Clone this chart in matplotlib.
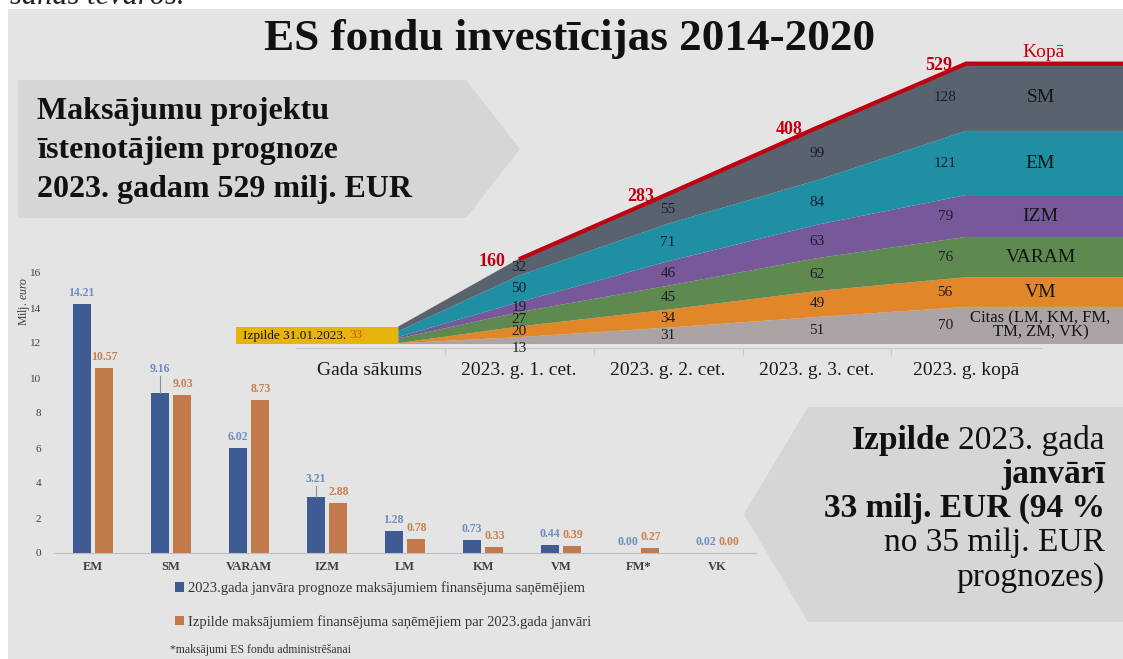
import matplotlib
matplotlib.use('Agg')
import matplotlib.pyplot as plt
from matplotlib.patches import Polygon, Rectangle
import numpy as np

W, H = 1123, 659
plt.rcParams['font.family'] = ['Liberation Serif', 'DejaVu Serif']
plt.rcParams['mathtext.fontset'] = 'custom'
plt.rcParams['mathtext.rm'] = 'Liberation Serif'
plt.rcParams['mathtext.it'] = 'Liberation Serif:italic'

# ---------------- data ----------------
stage_labels = ['Gada sākums', '2023. g. 1. cet.', '2023. g. 2. cet.',
                '2023. g. 3. cet.', '2023. g. kopā']
layer_names = ['Citas (LM, KM, FM,\nTM, ZM, VK)', 'VM', 'VARAM', 'IZM', 'EM', 'SM']
# start (izpilde 31.01.2023 = 33), Q1, Q2, Q3, total 2023
citas = [1.38, 13, 31, 51, 70]
vm = [0.39, 20, 34, 49, 56]
varam = [8.73, 27, 45, 62, 76]
izm = [2.88, 19, 46, 63, 79]
em = [10.57, 50, 71, 84, 121]
sm = [9.03, 32, 55, 99, 128]
totals = [160, 283, 408, 529]
start_total = 33

bar_cats = ['EM', 'SM', 'VARAM', 'IZM', 'LM', 'KM', 'VM', 'FM*', 'VK']
forecast = [14.21, 9.16, 6.02, 3.21, 1.28, 0.73, 0.44, 0.00, 0.02]
actual = [10.57, 9.03, 8.73, 2.88, 0.78, 0.33, 0.39, 0.27, 0.00]
legend_labels = ['2023.gada janvāra prognoze maksājumiem finansējuma saņēmējiem',
                 'Izpilde maksājumiem finansējuma saņēmējiem par 2023.gada janvāri']

# ---------------- styling ----------------
layer_colors = ['#aca3a5', '#e2862a', '#5f8a4f', '#77599a', '#1f90a3', '#59636f']
RED = '#c00010'
BG = '#e4e4e4'
BOX = '#d6d6d6'
TXT = '#141414'

fig = plt.figure(figsize=(W / 100, H / 100), dpi=100)
fig.patch.set_facecolor('white')


def px_axes(l, t, r, b, z):
    return fig.add_axes([l / W, 1 - b / H, (r - l) / W, (b - t) / H], zorder=z)


# background axes (pixel coords)
bg = fig.add_axes([0, 0, 1, 1], zorder=0)
bg.set_xlim(0, W); bg.set_ylim(H, 0); bg.axis('off')
bg.add_patch(Rectangle((8, 9), W, H, color=BG, lw=0))
bg.add_patch(Polygon([(18, 80), (466, 80), (520, 149), (466, 218), (18, 218)],
                     closed=True, color=BOX, lw=0))
bg.add_patch(Polygon([(808, 407), (W, 407), (W, 622), (808, 622), (744, 514)],
                     closed=True, color=BOX, lw=0))

# ---------------- stacked area chart ----------------
px_per_cat, x0_px = 149, 370
y0_px, px_per_unit = 344, 0.53
area_l, area_r, area_t = 296, W, 42
axa = px_axes(area_l, area_t, area_r, y0_px, 2)
axa.set_facecolor('none')
xmin = (area_l - x0_px) / px_per_cat
xmax = (area_r - x0_px) / px_per_cat
axa.set_xlim(xmin, xmax)
axa.set_ylim(0, (y0_px - area_t) / px_per_unit)

layers = [citas, vm, varam, izm, em, sm]
area_x = [0.19, 1, 2, 3, 4, xmax]
stack_vals = [l + [l[-1]] for l in layers]
axa.stackplot(area_x, stack_vals, colors=layer_colors, lw=0)
tot_line = totals + [totals[-1]]
axa.plot(area_x[1:], tot_line, color=RED, lw=3, solid_capstyle='butt', zorder=5)

# value labels in layers
cum = np.cumsum(np.array(layers), axis=0)
for j in range(1, 5):
    for i in range(len(layers)):
        v = layers[i][j]
        mid = cum[i][j] - v / 2
        dy = 0
        xx = j if j < 4 else j - 0.14
        if j == 1 and i == 0:
            dy = -7.5
        axa.annotate(f'{v:.0f}', (xx, mid), xytext=(0, dy), textcoords='offset pixels',
                     ha='center', va='center', fontsize=11, color='#1c1c2c', zorder=6,
                     annotation_clip=False)
for j, t in enumerate(totals):
    axa.annotate(f'{t}', (j + 1, t), xytext=(-14, -2), textcoords='offset pixels',
                 ha='right', va='center', fontsize=13, fontweight='bold', color=RED, zorder=6)
axa.annotate('Kopā', (4.52, totals[-1]), xytext=(0, 11), textcoords='offset pixels',
             ha='center', va='center', fontsize=14, color=RED)
for i, name in enumerate(layer_names):
    mid = cum[i][4] - layers[i][4] / 2
    axa.text(4.5, mid, name, ha='center', va='center',
             fontsize=12 if i == 0 else 14, color=TXT, linespacing=0.85)

for s in ['top', 'right', 'left']:
    axa.spines[s].set_visible(False)
axa.spines['bottom'].set_color('#c8c8c8')
axa.spines['bottom'].set_position(('outward', 3))
axa.spines['bottom'].set_bounds(-0.5, 4.5)
axa.set_yticks([])
axa.set_xticks([0.5, 1.5, 2.5, 3.5])
axa.set_xticklabels([])
axa.tick_params(axis='x', which='major', length=5, color='#c8c8c8')
axa.set_xticks(range(5), minor=True)
axa.set_xticklabels(stage_labels, minor=True, fontsize=14, color='#1a1a1a')
axa.tick_params(axis='x', which='minor', length=0, pad=10)

# ---------------- bar chart ----------------
axb = px_axes(54, 273, 756, 553, 3)
axb.set_facecolor('none')
xb = np.arange(len(bar_cats))
bw, off = 0.23, 0.147
b1 = axb.bar(xb - off, forecast, bw, color='#3f5b93', label=legend_labels[0])
b2 = axb.bar(xb + off, actual, bw, color='#c27a4a', label=legend_labels[1])
axb.set_xlim(-0.5, len(bar_cats) - 0.5)
axb.set_ylim(0, 16)
axb.set_yticks(range(0, 17, 2))
axb.tick_params(axis='y', length=0, labelsize=8, labelcolor='#404040', pad=9)
axb.set_xticks(xb)
axb.set_xticklabels(bar_cats, fontsize=9, fontweight='bold', color='#404040')
axb.tick_params(axis='x', length=0, pad=6)
for s in ['top', 'right', 'left']:
    axb.spines[s].set_visible(False)
axb.spines['bottom'].set_color('#bfbfbf')
raised = {1: 24, 3: 18}
for i, v in enumerate(forecast):
    dy = raised.get(i, 11)
    axb.annotate(f'{v:.2f}', (xb[i] - off, v), xytext=(0, dy), textcoords='offset pixels',
                 ha='center', va='center', fontsize=8.5, fontweight='bold', color='#6c8cc2')
    if i in raised:
        axb.plot([xb[i] - off, xb[i] - off], [v, v + (dy - 7) / 17.5], color='#909090', lw=0.8)
for i, v in enumerate(actual):
    axb.annotate(f'{v:.2f}', (xb[i] + off, v), xytext=(0, 11), textcoords='offset pixels',
                 ha='center', va='center', fontsize=8.5, fontweight='bold', color='#c9804f')
axb.set_ylabel(r'Milj. $\mathit{euro}$', fontsize=8.5, color='#404040', labelpad=4)
axb.yaxis.set_label_coords(-0.032, 0.9)

leg = fig.legend(handles=[b1, b2], loc='upper left', bbox_to_anchor=(168 / W, 1 - 574 / H),
                 frameon=False, fontsize=10.5, handlelength=0.6, handleheight=0.6,
                 handletextpad=0.25, labelspacing=1.35, borderpad=0)
for t in leg.get_texts():
    t.set_color('#333333')

# ---------------- overlay texts ----------------
ov = fig.add_axes([0, 0, 1, 1], zorder=10)
ov.set_xlim(0, W); ov.set_ylim(H, 0); ov.axis('off'); ov.patch.set_alpha(0)

ov.text(10, 4, 'šanas tēvārós.', fontsize=22, style='italic', ha='left', va='baseline',
        color='#222222')
ov.text(570, 39, 'ES fondu investīcijas 2014-2020', fontsize=32.5, fontweight='bold',
        ha='center', va='center', color='#111111')
for k, line in enumerate(['Maksājumu projektu', 'īstenotājiem prognoze',
                          '2023. gadam 529 milj. EUR']):
    ov.text(37, 112 + k * 38.5, line, fontsize=23, fontweight='bold', ha='left', va='center',
            color='#111111')

ov.text(170, 650, '*maksājumi ES fondu administrēšanai', fontsize=8.5, ha='left',
        va='center', color='#333333')

# yellow box
ov.add_patch(Rectangle((236, 327), 162, 17, color='#e6b40c', lw=0))

fig.canvas.draw()
rend = fig.canvas.get_renderer()


def run_left(parts, x, y, size):
    cur = x
    for txt, wt, col in parts:
        t = ov.text(cur, y, txt, ha='left', va='center', fontsize=size, fontweight=wt, color=col)
        bb = t.get_window_extent(renderer=rend)
        cur = bb.x1 + size * 0.35


def run_right(parts, x, y, size):
    cur = x
    for txt, wt in reversed(parts):
        t = ov.text(cur, y, txt, ha='right', va='center', fontsize=size, fontweight=wt,
                    color='#111111')
        bb = t.get_window_extent(renderer=rend)
        cur = bb.x0 - size * 0.35


run_left([('Izpilde 31.01.2023.', 'normal', '#111111'), ('33', 'normal', '#d05a10')],
         243, 335.5, 9.5)

rlines = [[('Izpilde', 'bold'), ('2023. gada', 'normal')],
          [('janvārī', 'bold')],
          [('33 milj. EUR (94 %', 'bold')],
          [('no 35 milj. EUR', 'normal')],
          [('prognozes)', 'normal')]]
for k, parts in enumerate(rlines):
    run_right(parts, 1105, 440 + k * 34.3, 24)

fig.savefig('out.png', dpi=100, facecolor=fig.get_facecolor())
